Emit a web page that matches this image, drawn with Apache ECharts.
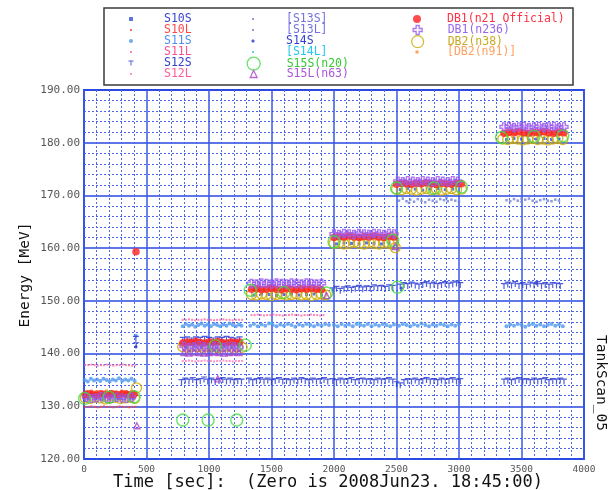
<!DOCTYPE html>
<html><head><meta charset="utf-8">
<script src="https://cdn.jsdelivr.net/npm/echarts@6/dist/echarts.min.js"></script>
<style>html,body{margin:0;padding:0;background:#fff}#c{width:612px;height:490px}</style>
</head><body><div id="c"></div>
<script>
// ---- axis ticks ----
const xTicks = [0, 500, 1000, 1500, 2000, 2500, 3000, 3500, 4000];
const yTicks = [120, 130, 140, 150, 160, 170, 180, 190];

// ---- series data [time sec, energy MeV] ----
const s10s = [[30,131.5],[90,131.6],[150,131.4],[210,131.6],[270,131.5],[330,131.7],[390,131.5],
[820,141.2],[880,141.4],[940,141.2],[1000,141.3],[1060,141.1],[1120,141.3],[1180,141.2],[1240,141.4],
[1360,151.1],[1420,151.3],[1480,151.2],[1540,151.0],[1600,151.2],[1660,151.3],[1720,151.1],[1780,151.2],[1840,151.3],[1900,151.1],
[2020,160.8],[2080,161.0],[2140,160.9],[2200,160.8],[2260,161.0],[2320,160.9],[2380,160.8],[2440,161.0],
[2530,171.1],[2590,171.3],[2650,171.2],[2710,171.0],[2770,171.2],[2830,171.3],[2890,171.1],[2950,171.2],
[3380,180.6],[3440,180.8],[3500,180.7],[3560,180.5],[3620,180.7],[3680,180.8],[3740,180.6],[3800,180.7]];
const s10l = [[10,129.9],[35,129.9],[60,130.0],[85,129.9],[110,129.8],[135,129.9],[160,130.0],[185,129.9],[210,129.9],[235,129.8],[260,129.9],[285,130.0],[310,129.9],[335,129.9],[360,129.8],[385,129.9],[410,129.9]];
const s11s = [[5,135.0],[30,134.7],[55,135.2],[80,134.9],[105,135.1],[130,134.8],[155,135.2],[180,135.0],[205,134.7],[230,135.1],[255,134.9],[280,135.3],[305,134.8],[330,135.1],[355,134.9],[380,135.2],[405,134.8],[415,143.4],
[790,145.2],[815,145.6],[840,145.3],[865,145.5],[890,145.1],[915,145.4],[940,145.7],[965,145.3],[990,145.5],[1015,145.2],[1040,145.6],[1065,145.4],[1090,145.2],[1115,145.5],[1140,145.3],[1165,145.7],[1190,145.4],[1215,145.2],[1240,145.5],[1260,145.3],
[1330,145.3],[1360,145.6],[1390,145.2],[1420,145.5],[1450,145.3],[1480,145.7],[1510,145.4],[1540,145.2],[1570,145.5],[1600,145.3],[1630,145.6],[1660,145.4],[1690,145.1],[1720,145.5],[1750,145.3],[1780,145.6],[1810,145.4],[1840,145.2],[1870,145.5],[1900,145.3],[1930,145.6],[1960,145.4],
[2000,145.4],[2030,145.2],[2060,145.6],[2090,145.3],[2120,145.5],[2150,145.2],[2180,145.6],[2210,145.4],[2240,145.3],[2270,145.6],[2300,145.2],[2330,145.5],[2360,145.3],[2390,145.6],[2420,145.4],[2450,145.2],[2480,145.5],
[2520,145.3],[2550,145.6],[2580,145.4],[2610,145.2],[2640,145.5],[2670,145.3],[2700,145.7],[2730,145.4],[2760,145.2],[2790,145.5],[2820,145.3],[2850,145.6],[2880,145.4],[2910,145.2],[2940,145.5],[2970,145.3],[3000,145.6],
[3380,145.2],[3410,145.5],[3440,145.3],[3470,145.6],[3500,145.4],[3530,145.1],[3560,145.4],[3590,145.6],[3620,145.3],[3650,145.5],[3680,145.2],[3710,145.4],[3740,145.6],[3770,145.3],[3800,145.5],[3830,145.2]];
const s11l = [[10,137.8],[35,137.8],[60,137.9],[85,137.8],[110,137.7],[135,137.8],[160,137.8],[185,137.9],[210,137.8],[235,137.7],[260,137.8],[285,137.8],[310,137.9],[335,137.8],[360,137.8],[385,137.7],[410,137.8],
[790,146.4],[815,146.4],[840,146.5],[865,146.4],[890,146.3],[915,146.4],[940,146.4],[965,146.5],[990,146.4],[1015,146.4],[1040,146.3],[1065,146.4],[1090,146.4],[1115,146.5],[1140,146.4],[1165,146.4],[1190,146.3],[1215,146.4],[1240,146.4],[1265,146.4],
[1340,147.3],[1365,147.3],[1390,147.4],[1415,147.3],[1440,147.2],[1465,147.3],[1490,147.3],[1515,147.4],[1540,147.3],[1565,147.3],[1590,147.2],[1615,147.3],[1640,147.3],[1665,147.4],[1690,147.3],[1715,147.3],[1740,147.2],[1765,147.3],[1790,147.3],[1815,147.4],[1840,147.3],[1865,147.3],[1890,147.2],[1915,147.3]];
const s12s = [[415,142.8],[418,141.6],
[790,142.6],[825,142.7],[860,142.5],[895,142.7],[930,142.6],[965,142.8],[1000,142.6],[1035,142.5],[1070,142.7],[1105,142.6],[1140,142.8],[1175,142.6],[1210,142.5],[1245,142.7],
[780,134.6],[810,134.9],[840,134.7],[870,135.0],[900,134.6],[930,134.8],[960,135.1],[990,134.7],[1020,134.9],[1050,134.6],[1080,134.8],[1110,135.0],[1140,134.7],[1170,134.9],[1200,134.6],[1230,134.8],[1260,134.7],
[1320,134.9],[1350,134.6],[1380,134.8],[1410,135.0],[1440,134.7],[1470,134.9],[1500,134.6],[1530,134.8],[1560,135.0],[1590,134.7],[1620,134.8],[1650,134.6],[1680,134.9],[1710,134.7],[1740,135.0],[1770,134.8],[1800,134.6],[1830,134.9],[1860,134.7],[1890,134.8],[1920,135.0],[1950,134.7],
[1990,134.8],[2020,134.6],[2050,134.9],[2080,134.7],[2110,134.8],[2140,135.0],[2170,134.6],[2200,134.8],[2230,134.9],[2260,134.7],[2290,134.8],[2320,134.6],[2350,134.9],[2380,134.7],[2410,134.8],[2440,135.0],[2470,134.7],
[2500,134.2],[2530,134.0],[2560,134.6],[2590,134.8],[2620,134.7],[2650,134.9],[2680,134.6],[2710,134.8],[2740,135.0],[2770,134.7],[2800,134.8],[2830,134.6],[2860,134.9],[2890,134.7],[2920,134.8],[2950,135.0],[2980,134.7],[3010,134.8],
[3360,134.7],[3390,134.9],[3420,134.6],[3450,134.8],[3480,135.0],[3510,134.7],[3540,134.8],[3570,134.6],[3600,134.9],[3630,134.7],[3660,134.8],[3690,135.0],[3720,134.6],[3750,134.8],[3780,134.7],[3810,134.9],[3840,134.7],
[1990,152.0],[2020,152.3],[2050,151.9],[2080,152.2],[2110,152.4],[2140,152.1],[2170,152.3],[2200,152.5],[2230,152.2],[2260,152.4],[2290,152.3],[2320,152.6],[2350,152.4],[2380,152.5],[2410,152.3],[2440,152.6],[2470,152.5],
[2530,152.7],[2560,153.0],[2590,152.8],[2620,153.1],[2650,152.9],[2680,152.7],[2710,153.0],[2740,153.2],[2770,152.9],[2800,153.1],[2830,152.8],[2860,153.0],[2890,153.2],[2920,152.9],[2950,153.1],[2980,153.3],[3010,153.0],
[3360,152.8],[3390,153.1],[3420,152.9],[3450,153.2],[3480,152.8],[3510,153.0],[3540,152.7],[3570,153.1],[3600,152.9],[3630,153.2],[3660,152.8],[3690,153.0],[3720,152.7],[3750,153.0],[3780,152.9],[3810,152.8]];
const s12l = [[790,138.6],[815,138.6],[840,138.7],[865,138.6],[890,138.5],[915,138.6],[940,138.6],[965,138.7],[990,138.6],[1015,138.6],[1040,138.5],[1065,138.6],[1090,138.6],[1115,138.7],[1140,138.6],[1165,138.6],[1190,138.5],[1215,138.6],[1240,138.6],[1265,138.6]];
const s13s = [[2520,169.0],[2550,169.4],[2580,168.9],[2610,169.2],[2640,168.8],[2670,169.3],[2700,169.0],[2730,168.7],[2760,169.2],[2790,169.0],[2820,168.8],[2850,169.3],[2880,169.1],[2910,168.9],[2940,169.2],[2970,169.0],[3000,168.8],
[3380,169.1],[3410,168.9],[3440,169.3],[3470,169.0],[3500,168.8],[3530,169.2],[3560,169.4],[3590,169.0],[3620,168.8],[3650,169.1],[3680,169.3],[3710,169.0],[3740,168.9],[3770,169.2],[3800,169.0]];
const s13l = [[2600,168.6],[2900,169.5],[3500,169.4]];
const s14s = [[415,141.3],[2540,152.4],[3620,153.3]];
const s14l = [[1500,145.8],[2200,145.9],[3600,145.8]];
const s15s = [[790,127.4],[993,127.4],[1222,127.4],[2508,152.6],[5,131.5],[400,131.8],[200,131.7],[1050,141.5],[1290,141.6],[1330,152.0],[1600,151.6],[1940,151.5],[2000,161.2],[2470,161.5],[2500,171.4],[2800,171.4],[3020,171.6],[3340,181.0],[3600,181.2],[3830,181.3]];
const s15l = [[423,126.3],[1070,135.2],
[800,140.2],[840,140.1],[880,140.3],[920,140.2],[960,140.1],[1000,140.2],[1040,140.3],[1080,140.2],[1120,140.1],[1160,140.2],[1200,140.3],[1240,140.2],
[1940,151.0],[2490,160.3]];
const db1Official = [[416,159.3],
[10,132.2],[40,132.4],[70,132.3],[100,132.1],[130,132.4],[160,132.3],[190,132.2],[220,132.4],[250,132.3],[280,132.2],[310,132.4],[340,132.3],[370,132.2],[400,132.3],
[790,142.0],[825,142.2],[860,142.1],[895,142.3],[930,142.1],[965,142.0],[1000,142.2],[1035,142.1],[1070,142.3],[1105,142.1],[1140,142.0],[1175,142.2],[1210,142.1],[1245,142.2],
[1340,152.2],[1380,152.3],[1420,152.1],[1460,152.2],[1500,152.4],[1540,152.2],[1580,152.1],[1620,152.3],[1660,152.2],[1700,152.1],[1740,152.3],[1780,152.2],[1820,152.4],[1860,152.2],[1900,152.1],
[2000,162.0],[2040,162.2],[2080,162.1],[2120,162.3],[2160,162.1],[2200,162.0],[2240,162.2],[2280,162.1],[2320,162.3],[2360,162.1],[2400,162.0],[2440,162.2],[2480,162.1],
[2500,172.1],[2540,172.3],[2580,172.2],[2620,172.1],[2660,172.3],[2700,172.2],[2740,172.4],[2780,172.2],[2820,172.1],[2860,172.3],[2900,172.2],[2940,172.1],[2980,172.3],[3020,172.2],
[3360,181.8],[3400,182.0],[3440,181.9],[3480,182.1],[3520,181.9],[3560,181.8],[3600,182.0],[3640,181.9],[3680,182.1],[3720,181.9],[3760,181.8],[3800,182.0],[3840,181.9]];
const db1 = [[20,131.7],[60,131.5],[100,131.6],[140,131.8],[180,131.6],[220,131.5],[260,131.7],[300,131.6],[340,131.5],[380,131.7],
[800,141.4],[840,141.2],[880,141.3],[920,141.5],[960,141.3],[1000,141.2],[1040,141.4],[1080,141.3],[1120,141.2],[1160,141.4],[1200,141.3],[1240,141.2],
[1340,153.3],[1380,153.2],[1420,153.4],[1460,153.3],[1500,153.2],[1540,153.4],[1580,153.3],[1620,153.2],[1660,153.4],[1700,153.3],[1740,153.2],[1780,153.4],[1820,153.3],[1860,153.2],[1900,153.3],
[2000,162.7],[2040,162.6],[2080,162.8],[2120,162.7],[2160,162.6],[2200,162.8],[2240,162.7],[2280,162.6],[2320,162.8],[2360,162.7],[2400,162.6],[2440,162.8],[2480,162.7],
[2510,172.7],[2550,172.6],[2590,172.8],[2630,172.7],[2670,172.6],[2710,172.8],[2750,172.7],[2790,172.6],[2830,172.8],[2870,172.7],[2910,172.6],[2950,172.8],[2990,172.7],
[3360,183.0],[3400,183.1],[3440,182.9],[3480,183.0],[3520,183.1],[3560,182.9],[3600,183.0],[3640,183.1],[3680,182.9],[3720,183.0],[3760,183.1],[3800,182.9],[3840,183.0]];
const db2 = [[420,133.5],
[10,131.6],[50,131.5],[90,131.7],[130,131.6],[170,131.4],[210,131.6],[250,131.7],[290,131.5],[330,131.6],[370,131.7],[405,131.5],
[790,141.3],[830,141.2],[870,141.4],[910,141.3],[950,141.2],[990,141.4],[1030,141.3],[1070,141.1],[1110,141.3],[1150,141.4],[1190,141.2],[1230,141.3],[1265,141.2],
[1340,151.2],[1380,151.1],[1420,151.3],[1460,151.2],[1500,151.0],[1540,151.2],[1580,151.3],[1620,151.1],[1660,151.2],[1700,151.3],[1740,151.1],[1780,151.2],[1820,151.0],[1860,151.2],[1900,151.3],[1935,151.1],
[2000,160.9],[2040,161.0],[2080,160.8],[2120,160.9],[2160,161.1],[2200,160.9],[2240,160.8],[2280,161.0],[2320,160.9],[2360,160.8],[2400,161.0],[2440,160.9],[2475,160.8],[2490,160.1],
[2500,171.2],[2540,171.1],[2580,171.3],[2620,171.2],[2660,171.0],[2700,171.2],[2740,171.3],[2780,171.1],[2820,171.2],[2860,171.0],[2900,171.2],[2940,171.3],[2980,171.1],[3020,171.2],
[3350,180.7],[3390,180.6],[3430,180.8],[3470,180.7],[3510,180.5],[3550,180.7],[3590,180.8],[3630,180.6],[3670,180.7],[3710,180.5],[3750,180.7],[3790,180.8],[3830,180.6]];
const db2b = [[20,132.8],[60,132.9],[100,132.8],[140,132.7],[180,132.9],[220,132.8],[260,132.7],[300,132.9],[340,132.8],[380,132.8]];

// ---- legend layout: [series name, column, row] ----
const legendItems = [
  ['S10S',0,0],['S10L',0,1],['S11S',0,2],['S11L',0,3],['S12S',0,4],['S12L',0,5],
  ['[S13S]',1,0],['[S13L]',1,1],['S14S',1,2],['[S14L]',1,3],['S15S(n20)',1,4],['S15L(n63)',1,5],
  ['DB1(n21 Official)',2,0],['DB1(n236)',2,1],['DB2(n38)',2,2],['[DB2(n91)]',2,3]
];
const colIconX = [131, 253, 417];
const colTextX = [164, 286, 447];
const rowY = [19, 30, 41, 52, 63, 74];

const TEE = 'path://M0,0H10V2H6V10H4V2H0Z';
const CROSS = 'path://M3,0H6V3H9V6H6V9H3V6H0V3H3Z';
const NONE = 'rgba(0,0,0,0)';
const mono = 'DejaVu Sans Mono';

// name, data, symbol, size, fill, stroke, textColor, legendSize
const seriesDefs = [
  ['S10S', s10s, 'rect', 3, '#3355dd', null, '#3a48d0', 4],
  ['S10L', s10l, 'rect', 2, '#ff4444', null, '#ff4848', 2],
  ['S11S', s11s, 'circle', 4, '#4b95f0', null, '#4d8ff2', 4],
  ['S11L', s11l, 'rect', 2, '#ff66a0', null, '#ff4f8c', 2],
  ['S12S', s12s, TEE, 6, '#2636d0', null, '#3444cc', 5],
  ['S12L', s12l, 'rect', 2, '#ff77bb', null, '#ff5a9a', 2],
  ['[S13S]', s13s, 'rect', 2.5, '#7080d8', null, '#7272e0', 2],
  ['[S13L]', s13l, 'rect', 2.5, '#7080d8', null, '#7272e0', 2],
  ['S14S', s14s, 'diamond', 4, '#2838c8', null, '#3444cc', 4],
  ['[S14L]', s14l, 'rect', 2, '#33ccee', null, '#22c8ee', 2],
  ['DB2(n38)', db2, 'circle', 10, NONE, '#ccaa00', '#c8a820', 12],
  ['[DB2(n91)]', db2b, 'rect', 3, '#ff8833', null, '#ffa060', 3],
  ['DB1(n21 Official)', db1Official, 'circle', 7.5, '#ff2020', null, '#ff3040', 8],
  ['DB1(n236)', db1, CROSS, 8, NONE, '#9955ee', '#9966ee', 9],
  ['S15S(n20)', s15s, 'circle', 12, NONE, '#44dd44', '#33cc33', 13],
  ['S15L(n63)', s15l, 'triangle', 6, NONE, '#aa44cc', '#aa55dd', 7]
];

const series = seriesDefs.map(d => ({
  name: d[0], type: 'scatter', data: d[1], symbol: d[2], symbolSize: d[3],
  symbolKeepAspect: true, silent: true, animation: false,
  itemStyle: d[5] ? {color: d[4], borderColor: d[5], borderWidth: 1.4} : {color: d[4], borderWidth: 0}
}));

const legends = legendItems.map(([name, col, row]) => {
  const d = seriesDefs.find(s => s[0] === name);
  const sz = d[7];
  const h = Math.max(12, sz);
  const padL = colTextX[col] - (colIconX[col] + sz / 2) - 5;
  return {
    data: [{name, itemStyle: d[5] ? {color: NONE, borderColor: d[5], borderWidth: 1.3} : {color: d[4], borderWidth: 0}}],
    left: colIconX[col] - sz / 2, top: rowY[row] - h / 2,
    itemWidth: sz, itemHeight: sz, padding: 0, selectedMode: false,
    textStyle: {color: d[6], fontFamily: mono, fontSize: 11.5, fontWeight: 500, lineHeight: 12, padding: [0, 0, 0, padL]}
  };
});

const chart = echarts.init(document.getElementById('c'), null, {renderer: 'canvas'});
chart.setOption({
  animation: false,
  backgroundColor: '#fff',
  grid: {left: 84, top: 90, width: 500, height: 369, show: true, borderColor: '#3050e8', borderWidth: 2},
  xAxis: {
    type: 'value', min: xTicks[0], max: xTicks[xTicks.length - 1], interval: 500,
    axisLine: {show: false}, axisTick: {show: false},
    axisLabel: {color: '#555', fontFamily: mono, fontSize: 9.5, margin: 6, formatter: v => String(v)},
    splitLine: {show: true, lineStyle: {color: '#3a58e6', width: 1.5}},
    minorTick: {show: false, splitNumber: 5},
    minorSplitLine: {show: true, lineStyle: {color: '#4a66ea', width: 1, type: [2, 2]}}
  },
  yAxis: {
    type: 'value', min: yTicks[0], max: yTicks[yTicks.length - 1], interval: 10,
    axisLine: {show: false}, axisTick: {show: false},
    axisLabel: {color: '#555', fontFamily: mono, fontSize: 11, margin: 4, formatter: v => v.toFixed(2)},
    splitLine: {show: true, lineStyle: {color: '#2a48e0', width: 1.5}},
    minorTick: {show: false, splitNumber: 5},
    minorSplitLine: {show: true, lineStyle: {color: '#4a66ea', width: 1, type: [2, 2]}}
  },
  legend: legends,
  graphic: [
    {type: 'rect', shape: {x: 104, y: 8, width: 469, height: 77}, style: {fill: '#fff', stroke: '#3a3a3a', lineWidth: 1.5}, z: 0},
    {type: 'text', x: 328, y: 483, style: {text: 'Time [sec]:  (Zero is 2008Jun23. 18:45:00)', font: '17px "DejaVu Sans Mono"', fill: '#111', align: 'center', verticalAlign: 'middle'}},
    {type: 'text', x: 25, y: 275, rotation: Math.PI / 2, style: {text: 'Energy [MeV]', font: '14.5px "DejaVu Sans Mono"', fill: '#111', align: 'center', verticalAlign: 'middle'}},
    {type: 'text', x: 601, y: 383, rotation: -Math.PI / 2, style: {text: 'TankScan_05', font: '14.5px "DejaVu Sans Mono"', fill: '#111', align: 'center', verticalAlign: 'middle'}}
  ],
  series
});
</script></body></html>
